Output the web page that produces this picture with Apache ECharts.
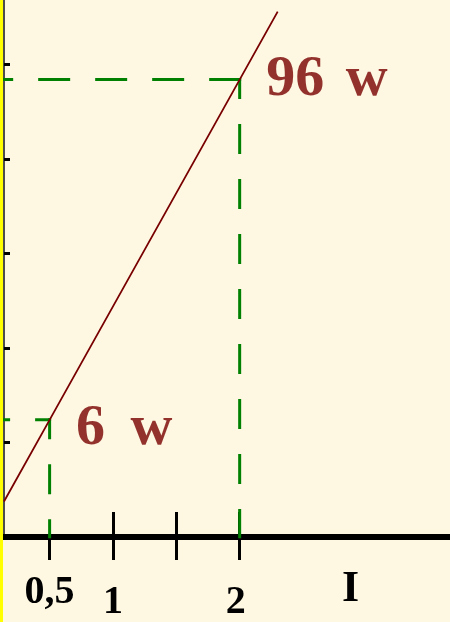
<!DOCTYPE html>
<html>
<head>
<meta charset="utf-8">
<script src="https://cdn.jsdelivr.net/npm/echarts@6/dist/echarts.min.js"></script>
<style>
  html, body { margin: 0; padding: 0; background: #fef8e2; }
  #chart { width: 447px; height: 622px; border-left: 3px solid #ffff00; }
</style>
</head>
<body>
<div id="chart"></div>
<script>
// Current axis (I): ticks and their labels
const currentTicks = [0.5, 1, 1.5, 2];
const currentLabelValues = [0.5, 1, 2];
const currentLabels = ['0,5', '1', '2'];
const currentRange = [0.14, 3.66];
const axisName = 'I';

// Power axis: tick positions only (no labels drawn)
const powerTicks = [0, 25, 50, 75, 100];
const powerRange = [-25, 117.06];

// The straight characteristic line
const lineCurrent = [0.14, 0.5, 2, 2.3];
const linePower = [-15.6, 6, 96, 114];

// Marked operating points
const markedCurrent = [0.5, 2];
const markedPower = [6, 96];
const markedLabels = ['6 w', '96 w'];

const serif = '"Liberation Serif", "DejaVu Serif", serif';
const maroon = '#780000';
const green = '#008000';

const pairs = (xs, ys) => xs.map((x, i) => [x, ys[i]]);

// Dashed guide lines from each marked point to both axes
const guideSeries = [];
markedCurrent.forEach((x, i) => {
  const y = markedPower[i];
  guideSeries.push({
    type: 'line', silent: true, showSymbol: false, z: 2,
    data: [[x, y], [currentRange[0], y]],
    lineStyle: { color: green, width: 3, type: [29, 28], dashOffset: i === 0 ? 16 : 0, cap: 'square' }
  });
  guideSeries.push({
    type: 'line', silent: true, showSymbol: false, z: 2,
    data: [[x, y], [x, powerRange[0]]],
    lineStyle: { color: green, width: 3, type: [27, 28], dashOffset: 9, cap: 'square' }
  });
});

// Label rows under the current axis: "0,5" sits higher than "1" and "2"
const tickLabelStyle = ['hi', 'lo', 'loL'];
const baseLabel = { fontFamily: serif, fontWeight: 'bold', fontSize: 40, lineHeight: 40, color: '#000' };
const nameFont = { fontFamily: serif, fontWeight: 'bold', fontSize: 44, lineHeight: 44, color: '#000' };

const chart = echarts.init(document.getElementById('chart'), null, { renderer: 'canvas' });
chart.setOption({
  animation: false,
  backgroundColor: '#fef8e2',
  grid: { left: 1, right: 0, top: 0, bottom: 85, outerBoundsMode: 'none', containLabel: false },
  xAxis: [
    {
      type: 'value', position: 'bottom',
      min: currentRange[0], max: currentRange[1],
      name: '{n|' + axisName + '}', nameLocation: 'end', nameGap: -108,
      nameTextStyle: {
        ...nameFont, verticalAlign: 'top',
        rich: { n: { ...nameFont, padding: [61, 0, 0, 0] } }
      },
      axisLine: { show: true, onZero: false, lineStyle: { color: '#000', width: 6 } },
      axisTick: { show: true, customValues: currentTicks, length: 23, lineStyle: { color: '#000', width: 3 } },
      axisLabel: {
        show: true, margin: 36, customValues: currentLabelValues,
        ...baseLabel,
        formatter: (v) => {
          const i = currentLabelValues.indexOf(v);
          return '{' + tickLabelStyle[i] + '|' + currentLabels[i] + '}';
        },
        rich: {
          hi: { ...baseLabel },
          lo: { ...baseLabel, padding: [19, 0, 0, 0] },
          loL: { ...baseLabel, padding: [20, 8, 0, 0] }
        }
      },
      splitLine: { show: false }
    },
    {
      // upper half of the current ticks, crossing the axis line
      type: 'value', position: 'bottom', gridIndex: 0,
      min: currentRange[0], max: currentRange[1],
      axisLine: { show: false, onZero: false },
      axisTick: { show: true, inside: true, customValues: currentTicks.slice(1), length: 25, lineStyle: { color: '#000', width: 3 } },
      axisLabel: { show: false },
      splitLine: { show: false }
    }
  ],
  yAxis: {
    type: 'value',
    min: powerRange[0], max: powerRange[1],
    axisLine: { show: true, onZero: false, lineStyle: { color: '#4d4d4d', width: 2 } },
    axisTick: { show: true, inside: true, customValues: powerTicks, length: 6, lineStyle: { color: '#000', width: 3 } },
    axisLabel: { show: false },
    splitLine: { show: false }
  },
  series: [
    {
      type: 'line', silent: true, showSymbol: false, z: 3,
      data: pairs(lineCurrent, linePower),
      lineStyle: { color: maroon, width: 1.8 }
    },
    ...guideSeries,
    {
      type: 'scatter', silent: true, z: 4,
      symbolSize: 1,
      itemStyle: { color: 'rgba(0,0,0,0)' },
      data: markedCurrent.map((x, i) => ({
        value: [x, markedPower[i]],
        label: { offset: [0, i === 0 ? 9 : 0] }
      })),
      label: {
        show: true, position: 'right', distance: 26,
        fontFamily: serif, fontWeight: 'bold', fontSize: 58, lineHeight: 58, color: maroon,
        formatter: (p) => {
          const parts = markedLabels[p.dataIndex].split(' ');
          return '{n|' + parts[0] + '} {' + (p.dataIndex === 0 ? 'ua' : 'ub') + '|' + parts[1] + '}';
        },
        rich: {
          n: { fontFamily: serif, fontWeight: 'bold', fontSize: 58, lineHeight: 58, color: maroon },
          ua: { fontFamily: serif, fontWeight: 'bold', fontSize: 58, lineHeight: 58, color: maroon, padding: [0, 0, 0, 11] },
          ub: { fontFamily: serif, fontWeight: 'bold', fontSize: 58, lineHeight: 58, color: maroon, padding: [0, 0, 0, 7] }
        }
      }
    }
  ]
});
</script>
</body>
</html>
